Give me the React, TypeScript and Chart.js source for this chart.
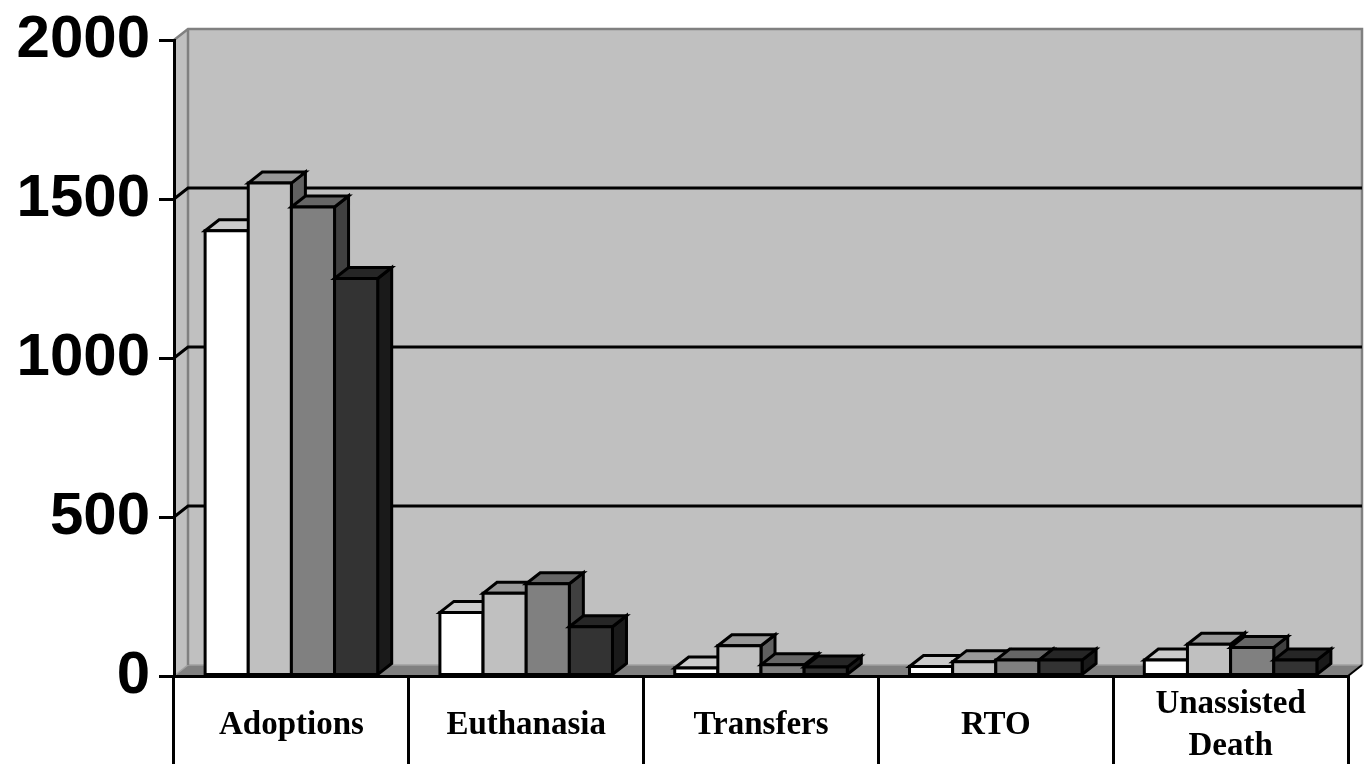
import React, { useEffect, useRef } from "react";
import { Chart, registerables } from "chart.js";

Chart.register(...registerables);

// ---- data ----
const categories: (string | string[])[] = [
  "Adoptions",
  "Euthanasia",
  "Transfers",
  "RTO",
  ["Unassisted", "Death"],
];
const series1 = [1400, 200, 25, 30, 50];
const series2 = [1550, 260, 95, 45, 100];
const series3 = [1475, 290, 35, 50, 90];
const series4 = [1250, 155, 28, 50, 50];
const yMin = 0;
const yMax = 2000;
const yStep = 500;

// ---- style ----
const DX = 14;
const DY = 11;
const faceColors = ["#ffffff", "#c0c0c0", "#808080", "#333333"];
const topColors = ["#cccccc", "#999999", "#666666", "#262626"];
const sideColors = ["#8c8c8c", "#606060", "#404040", "#1a1a1a"];
const LW = 3;

const excel3d = {
  id: "excel3d",
  beforeDraw(chart: any) {
    const ctx = chart.ctx;
    const { left, right, top, bottom } = chart.chartArea;
    const yScale = chart.scales.y;
    ctx.save();
    // back wall
    ctx.fillStyle = "#c0c0c0";
    ctx.fillRect(left + DX, top - DY, right - left, bottom - top);
    // left wall
    ctx.beginPath();
    ctx.moveTo(left, top);
    ctx.lineTo(left + DX, top - DY);
    ctx.lineTo(left + DX, bottom - DY);
    ctx.lineTo(left, bottom);
    ctx.closePath();
    ctx.fill();
    // floor
    ctx.fillStyle = "#808080";
    ctx.beginPath();
    ctx.moveTo(left, bottom);
    ctx.lineTo(left + DX, bottom - DY);
    ctx.lineTo(right + DX, bottom - DY);
    ctx.lineTo(right, bottom);
    ctx.closePath();
    ctx.fill();
    // floor back edge (lighter)
    ctx.strokeStyle = "#a0a0a0";
    ctx.lineWidth = 1.5;
    ctx.beginPath();
    ctx.moveTo(left, bottom);
    ctx.lineTo(left + DX, bottom - DY);
    ctx.lineTo(right + DX, bottom - DY);
    ctx.stroke();
    // wall borders
    ctx.strokeStyle = "#808080";
    ctx.lineWidth = 2.5;
    ctx.beginPath();
    ctx.moveTo(left, top);
    ctx.lineTo(left + DX, top - DY);
    ctx.lineTo(right + DX, top - DY);
    ctx.lineTo(right + DX, bottom - DY);
    ctx.stroke();
    ctx.beginPath();
    ctx.moveTo(left + DX, top - DY);
    ctx.lineTo(left + DX, bottom - DY);
    ctx.stroke();
    // floor right edge
    ctx.strokeStyle = "#000";
    ctx.lineWidth = 2;
    ctx.beginPath();
    ctx.moveTo(right, bottom);
    ctx.lineTo(right + DX, bottom - DY);
    ctx.stroke();
    // gridlines on walls
    ctx.strokeStyle = "#000";
    ctx.lineWidth = LW;
    yScale.ticks.forEach((t: any) => {
      if (t.value <= yMin || t.value >= yMax) return;
      const yp = yScale.getPixelForValue(t.value);
      ctx.beginPath();
      ctx.moveTo(left, yp);
      ctx.lineTo(left + DX, yp - DY);
      ctx.lineTo(right + DX, yp - DY);
      ctx.stroke();
    });
    ctx.restore();
  },
  beforeDatasetsDraw(chart: any) {
    const ctx = chart.ctx;
    const nCat = chart.data.labels.length;
    const nDs = chart.data.datasets.length;
    ctx.save();
    ctx.lineWidth = LW;
    ctx.strokeStyle = "#000";
    ctx.lineJoin = "miter";
    for (let i = 0; i < nCat; i++) {
      for (let d = 0; d < nDs; d++) {
        const el = chart.getDatasetMeta(d).data[i];
        const { x, y, base, width } = el.getProps(["x", "y", "base", "width"], true);
        const l = x - width / 2;
        const r = x + width / 2;
        // side face
        ctx.fillStyle = sideColors[d];
        ctx.beginPath();
        ctx.moveTo(r, y);
        ctx.lineTo(r + DX, y - DY);
        ctx.lineTo(r + DX, base - DY);
        ctx.lineTo(r, base);
        ctx.closePath();
        ctx.fill();
        ctx.stroke();
        // top face
        ctx.fillStyle = topColors[d];
        ctx.beginPath();
        ctx.moveTo(l, y);
        ctx.lineTo(l + DX, y - DY);
        ctx.lineTo(r + DX, y - DY);
        ctx.lineTo(r, y);
        ctx.closePath();
        ctx.fill();
        ctx.stroke();
        // front face
        ctx.fillStyle = faceColors[d];
        ctx.beginPath();
        ctx.rect(l, y, width, base - y);
        ctx.fill();
        ctx.stroke();
      }
    }
    ctx.restore();
    return false;
  },
};

export default function App() {
  const ref = useRef<HTMLCanvasElement | null>(null);
  useEffect(() => {
    document.body.style.margin = "0";
    const canvas = ref.current;
    if (!canvas) return;
    const chart = new Chart(canvas, {
      type: "bar",
      data: {
        labels: categories as any,
        datasets: [
          { label: "Series 1", data: series1, backgroundColor: faceColors[0] },
          { label: "Series 2", data: series2, backgroundColor: faceColors[1] },
          { label: "Series 3", data: series3, backgroundColor: faceColors[2] },
          { label: "Series 4", data: series4, backgroundColor: faceColors[3] },
        ],
      },
      options: {
        responsive: false,
        animation: false,
        devicePixelRatio: 1,
        layout: { padding: { top: 40, right: 17, left: 0, bottom: 0 } },
        datasets: { bar: { categoryPercentage: 0.735, barPercentage: 1 } },
        plugins: { legend: { display: false }, tooltip: { enabled: false }, title: { display: false } },
        scales: {
          x: {
            offset: true,
            grid: {
              offset: true,
              drawOnChartArea: false,
              drawTicks: true,
              tickLength: 88,
              color: "#000",
              lineWidth: LW,
            },
            border: { display: true, color: "#000", width: LW },
            ticks: {
              padding: -60,
              autoSkip: false,
              maxRotation: 0,
              minRotation: 0,
              crossAlign: "center",
              color: "#000",
              font: { family: "'Liberation Serif', 'Times New Roman', serif", size: 33, weight: "bold", lineHeight: 1.28 },
            },
            afterFit: (scale: any) => {
              scale.height = 88;
            },
          } as any,
          y: {
            min: yMin,
            max: yMax,
            grid: {
              drawOnChartArea: false,
              drawTicks: true,
              tickLength: 15,
              color: "#000",
              lineWidth: LW,
            },
            border: { display: true, color: "#000", width: LW },
            ticks: {
              stepSize: yStep,
              padding: 9,
              color: "#000",
              callback: (v: any) => String(v),
              font: { family: "'Liberation Sans', Arial, sans-serif", size: 60, weight: "bold", lineHeight: 1 },
            },
            afterFit: (scale: any) => {
              scale.width = 174;
            },
          } as any,
        },
      },
      plugins: [excel3d],
    });
    return () => chart.destroy();
  }, []);
  return (
    <div style={{ width: 1365, height: 764, overflow: "hidden" }}>
      <canvas ref={ref} width={1365} height={764} style={{ display: "block" }} />
    </div>
  );
}
